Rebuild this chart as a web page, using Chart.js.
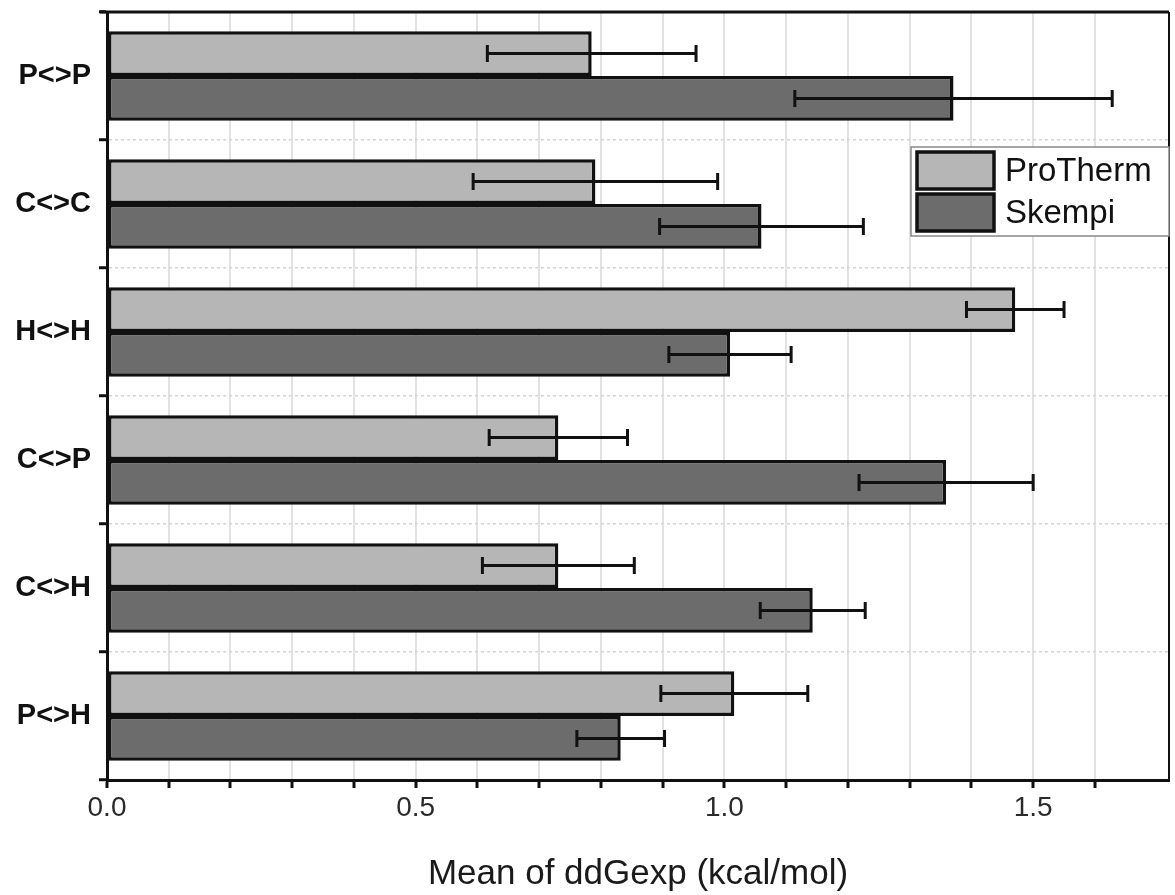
<!DOCTYPE html>
<html>
<head>
<meta charset="utf-8">
<script src="https://cdn.jsdelivr.net/npm/chart.js@4/dist/chart.umd.min.js"></script>
<style>
  html, body { margin: 0; padding: 0; background: #fff; }
  #wrap { width: 1175px; height: 895px; }
</style>
</head>
<body>
<div id="wrap"><canvas id="chart" width="1175" height="895"></canvas></div>
<script>
// categories and values
var categories = ["P<>P", "C<>C", "H<>H", "C<>P", "C<>H", "P<>H"];
var protherm = [0.785, 0.791, 1.471, 0.731, 0.731, 1.016];
var prothermErr = [0.169, 0.198, 0.079, 0.112, 0.123, 0.119];
var skempi = [1.371, 1.060, 1.009, 1.359, 1.143, 0.832];
var skempiErr = [0.257, 0.165, 0.099, 0.141, 0.085, 0.071];
var xLabelValues = [0.0, 0.5, 1.0, 1.5];

var FONT = "'Liberation Sans', Arial, sans-serif";

// error bars drawn from the dataset's own bar elements
var errorBars = {
  id: "errorBars",
  afterDatasetsDraw: function (chart) {
    var ctx = chart.ctx;
    var xs = chart.scales.x;
    chart.data.datasets.forEach(function (ds, i) {
      var meta = chart.getDatasetMeta(i);
      meta.data.forEach(function (bar, j) {
        var v = ds.data[j];
        var e = ds.errors[j];
        var xl = xs.getPixelForValue(v - e);
        var xr = xs.getPixelForValue(v + e);
        var y = bar.y;
        ctx.save();
        ctx.strokeStyle = "#111";
        ctx.lineWidth = 3;
        ctx.beginPath();
        ctx.moveTo(xl, y);
        ctx.lineTo(xr, y);
        ctx.moveTo(xl, y - 8.5);
        ctx.lineTo(xl, y + 8.5);
        ctx.moveTo(xr, y - 8.5);
        ctx.lineTo(xr, y + 8.5);
        ctx.stroke();
        ctx.restore();
      });
    });
  },
};

// top and right frame + legend box inside the plot
var frameLegend = {
  id: "frameLegend",
  afterDraw: function (chart) {
    var ctx = chart.ctx;
    var a = chart.chartArea;
    ctx.save();
    ctx.strokeStyle = "#111";
    ctx.lineWidth = 3;
    ctx.beginPath();
    ctx.moveTo(a.left - 7, a.top);
    ctx.lineTo(a.right, a.top);
    ctx.stroke();
    ctx.lineWidth = 2;
    ctx.beginPath();
    ctx.moveTo(a.right, a.top);
    ctx.lineTo(a.right, a.bottom);
    ctx.stroke();

    // legend
    var w = 258, h = 89;
    var bx = a.right - w, by = 147;
    ctx.fillStyle = "#fff";
    ctx.fillRect(bx, by, w, h);
    ctx.strokeStyle = "#888";
    ctx.lineWidth = 1.5;
    ctx.strokeRect(bx, by, w, h);
    chart.data.datasets.forEach(function (ds, i) {
      var sy = by + 5 + i * 42;
      ctx.fillStyle = ds.backgroundColor;
      ctx.fillRect(bx + 6, sy, 77, 37);
      ctx.strokeStyle = "#111";
      ctx.lineWidth = 3.5;
      ctx.strokeRect(bx + 6, sy, 77, 37);
      ctx.fillStyle = "#111";
      ctx.font = "33px " + FONT;
      ctx.textBaseline = "middle";
      ctx.textAlign = "left";
      ctx.fillText(ds.label, bx + 94, sy + 20);
    });
    ctx.restore();
  },
};

var ctx = document.getElementById("chart").getContext("2d");
var chart = new Chart(ctx, {
  type: "bar",
  data: {
    labels: categories,
    datasets: [
      {
        label: "ProTherm",
        data: protherm,
        errors: prothermErr,
        backgroundColor: "#b6b6b6",
        borderColor: "#111",
        borderWidth: 3.5,
        borderSkipped: false,
        categoryPercentage: 0.7,
        barPercentage: 1.0,
      },
      {
        label: "Skempi",
        data: skempi,
        errors: skempiErr,
        backgroundColor: "#6c6c6c",
        borderColor: "#111",
        borderWidth: 3.5,
        borderSkipped: false,
        categoryPercentage: 0.7,
        barPercentage: 1.0,
      },
    ],
  },
  options: {
    indexAxis: "y",
    responsive: false,
    animation: false,
    layout: { padding: { top: 12, right: 6, left: 0, bottom: 0 } },
    plugins: {
      legend: { display: false },
      tooltip: { enabled: false },
    },
    scales: {
      x: {
        type: "linear",
        min: 0,
        max: 1.72,
        afterBuildTicks: function (scale) {
          scale.ticks = scale.ticks.filter(function (t) {
            return t.value <= 1.7001;
          });
        },
        afterFit: function (scale) {
          scale.height = 115;
          scale.paddingLeft = 0;
          scale.paddingRight = 0;
        },
        ticks: {
          stepSize: 0.1,
          autoSkip: false,
          maxRotation: 0,
          padding: 3,
          color: "#2a2a2a",
          font: { family: FONT, size: 28 },
          callback: function (value) {
            for (var k = 0; k < xLabelValues.length; k++) {
              if (Math.abs(value - xLabelValues[k]) < 1e-6) return xLabelValues[k].toFixed(1);
            }
            return "";
          },
        },
        grid: {
          color: "#e2e2e2",
          lineWidth: 2,
          tickColor: "#111",
          tickLength: 8,
          tickWidth: 3,
        },
        border: { color: "#111", width: 3 },
        title: {
          display: true,
          text: "Mean of ddGexp (kcal/mol)",
          color: "#1a1a1a",
          font: { family: FONT, size: 35 },
          padding: { top: 4, bottom: 0 },
        },
      },
      y: {
        afterFit: function (scale) {
          scale.width = 107;
          scale.paddingTop = 0;
          scale.paddingBottom = 0;
        },
        ticks: {
          color: "#111",
          padding: 8,
          font: { family: FONT, size: 29, weight: "bold" },
        },
        grid: {
          offset: true,
          color: "#d4d4d4",
          lineWidth: 1.5,
          tickColor: "#111",
          tickLength: 8,
          tickWidth: 3,
        },
        border: { color: "#111", width: 3, dash: [3, 3] },
      },
    },
  },
  plugins: [errorBars, frameLegend],
});
</script>
</body>
</html>
